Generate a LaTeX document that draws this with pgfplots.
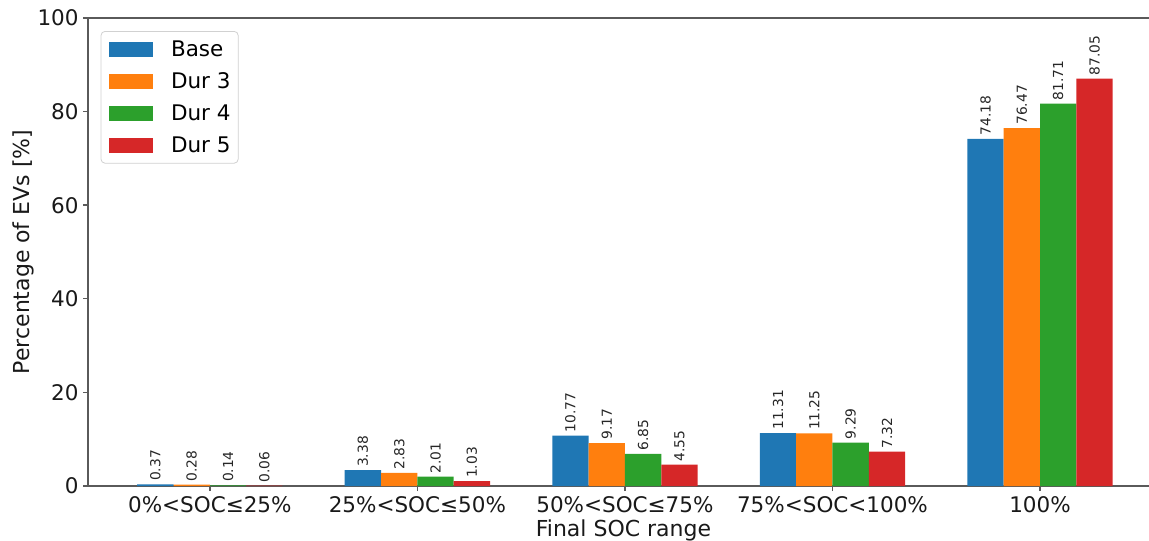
\documentclass[border=0pt]{standalone}
\usepackage{fontspec}
\setmainfont{DejaVu Sans}
\usepackage{pgfplots}
\pgfplotsset{compat=1.18}

\definecolor{tabblue}{HTML}{1F77B4}
\definecolor{taborange}{HTML}{FF7F0E}
\definecolor{tabgreen}{HTML}{2CA02C}
\definecolor{tabred}{HTML}{D62728}
\definecolor{spine}{HTML}{5A5A5A}

\newcommand{\ticksize}{\fontsize{10.75}{12.5}\selectfont}
\newcommand{\labelsize}{\fontsize{11}{13}\selectfont}
\newcommand{\valsize}{\fontsize{6.9}{8}\selectfont}

\begin{document}
\begin{tikzpicture}
\useasboundingbox (-44pt,-27pt) rectangle (530.5pt,243pt);
\begin{axis}[
  at={(0pt,0pt)}, anchor=south west,
  scale only axis, width=530.5pt, height=234pt,
  xmin=-0.587, xmax=4.525, ymin=0, ymax=100,
  axis x line*=box, axis y line*=left,
  axis line style={spine, line width=0.7pt},
  tick pos=left, tick align=outside,
  major tick length=2.5pt,
  every tick/.style={spine, line width=0.7pt},
  /pgf/number format/assume math mode=true,
  xtick={0,1,2,3,4},
  xticklabels={0\%<SOC≤25\%, 25\%<SOC≤50\%, 50\%<SOC≤75\%, 75\%<SOC<100\%, 100\%},
  ytick={0,20,40,60,80,100},
  tick label style={font=\ticksize, black!90},
  xticklabel style={anchor=north, inner sep=0pt, text height=7.85pt, text depth=0pt, yshift=-2.5pt},
  yticklabel style={anchor=east, inner sep=0pt, xshift=-2pt},
  xlabel={\labelsize Final SOC range},
  ylabel={\labelsize Percentage of EVs [\%]},
  every axis x label/.style={at={(rel axis cs:0.5047,0)}, anchor=base, yshift=-25.2pt, black!90},
  every axis y label/.style={at={(rel axis cs:0,0.5)}, anchor=center, rotate=90, yshift=32.5pt, black!90},
  ybar, bar width=0.175,
  nodes near coords={\pgfmathprintnumber[fixed,fixed zerofill,precision=2]{\pgfplotspointmeta}},
  every node near coord/.append style={rotate=90, anchor=west, font=\valsize, black!85, inner sep=1.5pt},
  legend image code/.code={\fill[#1, sharp corners] (0pt,-3.75pt) rectangle (22pt,3.75pt);},
  legend cell align=left,
  legend style={
    at={(rel axis cs:0.0119,0.9722)}, anchor=north west,
    draw=black!18, rounded corners=2pt, fill=white,
    inner xsep=3.8pt, inner ysep=5.2pt,
    row sep=8.5pt, column sep=0pt,
    font=\ticksize,
    nodes={inner sep=0pt, text height=7.5pt, text depth=0pt},
  },
]
% Base scenario
\addplot[fill=tabblue, draw=none, bar shift=-0.2625]
  coordinates {(0,0.37) (1,3.38) (2,10.77) (3,11.31) (4,74.18)};
% Duration 3
\addplot[fill=taborange, draw=none, bar shift=-0.0875]
  coordinates {(0,0.28) (1,2.83) (2,9.17) (3,11.25) (4,76.47)};
% Duration 4
\addplot[fill=tabgreen, draw=none, bar shift=0.0875]
  coordinates {(0,0.14) (1,2.01) (2,6.85) (3,9.29) (4,81.71)};
% Duration 5
\addplot[fill=tabred, draw=none, bar shift=0.2625]
  coordinates {(0,0.06) (1,1.03) (2,4.55) (3,7.32) (4,87.05)};
\legend{\hspace{9.2pt}Base, \hspace{9.2pt}Dur 3, \hspace{9.2pt}Dur 4, \hspace{9.2pt}Dur 5}
\end{axis}
\end{tikzpicture}
\end{document}
